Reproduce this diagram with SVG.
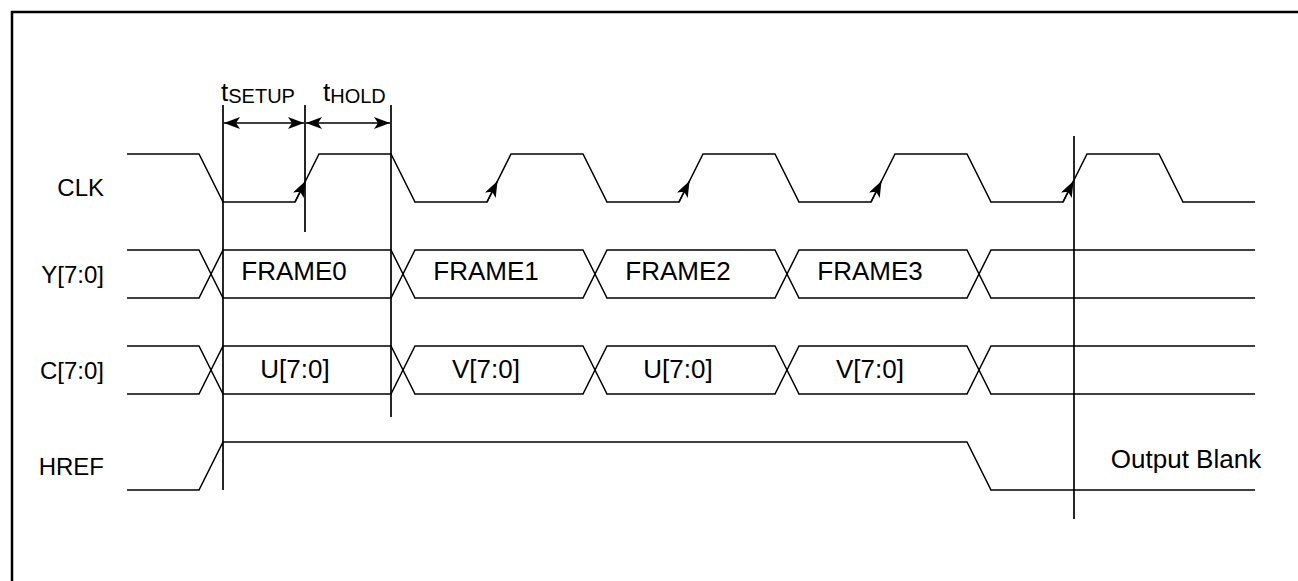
<svg xmlns="http://www.w3.org/2000/svg" width="1298" height="581" viewBox="0 0 1298 581">
<defs>
<style>
.wave{fill:none;stroke:#000;stroke-width:1.5;stroke-linejoin:miter}
.vl{stroke:#000;stroke-width:1.7}
.lbl{font-family:"Liberation Sans",Arial,sans-serif;font-size:24px;fill:#000;text-anchor:end}
.txt{font-family:"Liberation Sans",Arial,sans-serif;font-size:26px;fill:#000;text-anchor:middle}
.tl{font-family:"Liberation Sans",Arial,sans-serif;font-size:26px;fill:#000;text-anchor:start}
.sub{font-size:20px}
.dim{stroke:#000;stroke-width:1.7;fill:none}
</style>
<marker id="ah" viewBox="0 0 16 12" refX="16" refY="6" markerWidth="16" markerHeight="12" markerUnits="userSpaceOnUse" orient="auto-start-reverse"><path d="M0,0 L16,6 L0,12 L4,6 Z" fill="#000"/></marker>
<marker id="ae" viewBox="0 0 16 12" refX="16" refY="6" markerWidth="16" markerHeight="12" markerUnits="userSpaceOnUse" orient="auto"><path d="M0,0 L16,6 L0,12 L4,6 Z" fill="#000"/></marker>
</defs>
<rect width="1298" height="581" fill="#fff"/>
<path d="M12,581 V12 H1298" fill="none" stroke="#000" stroke-width="2.5"/>

<g id="clk">
<text class="lbl" x="104" y="196">CLK</text>
<path class="wave" d="M127,154 H199 L223,202 H295 L319,154 H391 L415,202 H487 L511,154 H583 L607,202 H679 L703,154 H775 L799,202 H871 L895,154 H967 L991,202 H1063 L1087,154 H1159 L1183,202 H1255"/>
<path class="wave" d="M295,202 L305.5,181" marker-end="url(#ae)"/>
<path class="wave" d="M487,202 L497.5,181" marker-end="url(#ae)"/>
<path class="wave" d="M679,202 L689.5,181" marker-end="url(#ae)"/>
<path class="wave" d="M871,202 L881.5,181" marker-end="url(#ae)"/>
<path class="wave" d="M1063,202 L1073.5,181" marker-end="url(#ae)"/>
</g>

<g id="y-bus">
<text class="lbl" x="104" y="283">Y[7:0]</text>
<path class="wave" d="M127,250 H199 L223,298 H391 L415,250 H583 L607,298 H775 L799,250 H967 L991,298 H1255"/>
<path class="wave" d="M127,298 H199 L223,250 H391 L415,298 H583 L607,250 H775 L799,298 H967 L991,250 H1255"/>
<text class="txt" x="294" y="280">FRAME0</text>
<text class="txt" x="486" y="280">FRAME1</text>
<text class="txt" x="678" y="280">FRAME2</text>
<text class="txt" x="870" y="280">FRAME3</text>
</g>

<g id="c-bus">
<text class="lbl" x="104" y="379">C[7:0]</text>
<path class="wave" d="M127,346 H199 L223,394 H391 L415,346 H583 L607,394 H775 L799,346 H967 L991,394 H1255"/>
<path class="wave" d="M127,394 H199 L223,346 H391 L415,394 H583 L607,346 H775 L799,394 H967 L991,346 H1255"/>
<text class="txt" x="295" y="378">U[7:0]</text>
<text class="txt" x="486" y="378">V[7:0]</text>
<text class="txt" x="678" y="378">U[7:0]</text>
<text class="txt" x="870" y="378">V[7:0]</text>
</g>

<g id="href">
<text class="lbl" x="104" y="475">HREF</text>
<path class="wave" d="M127,490 H199 L223,442 H967 L991,490 H1255"/>
<text class="txt" x="1186" y="468">Output Blank</text>
</g>

<g id="timing-labels">
<text class="tl" x="221" y="101">t<tspan class="sub" dy="2">SETUP</tspan></text>
<text class="tl" x="323" y="101">t<tspan class="sub" dy="2">HOLD</tspan></text>
</g>

<g id="connectors">
<line class="vl" x1="223" y1="105" x2="223" y2="490"/>
<line class="vl" x1="305" y1="105" x2="305" y2="232"/>
<line class="vl" x1="391" y1="105" x2="391" y2="417"/>
<line class="vl" x1="1074" y1="136" x2="1074" y2="519"/>
<line class="dim" x1="224" y1="123" x2="304" y2="123" marker-start="url(#ah)" marker-end="url(#ah)"/>
<line class="dim" x1="306" y1="123" x2="390" y2="123" marker-start="url(#ah)" marker-end="url(#ah)"/>
</g>
</svg>
